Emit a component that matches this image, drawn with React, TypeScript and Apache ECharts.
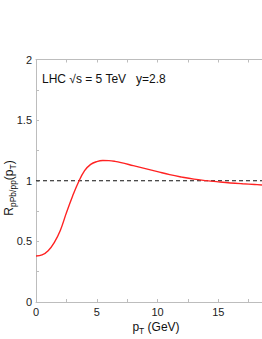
import React, { useEffect, useRef } from "react";
import * as echarts from "echarts";

const ptValues = [0, 0.5, 1.0, 1.5, 2.0, 2.5, 3.0, 3.5, 4.0, 4.5, 5.0, 5.5, 6.0, 6.5, 7.0, 8.0, 9.0, 10.0, 11.0, 12.0, 13.0, 14.0, 15.0, 16.0, 17.0, 18.0, 18.6];
const rValues = [0.38, 0.388, 0.423, 0.49, 0.59, 0.735, 0.87, 0.99, 1.083, 1.135, 1.158, 1.167, 1.166, 1.16, 1.15, 1.125, 1.1, 1.075, 1.05, 1.03, 1.013, 1.001, 0.991, 0.982, 0.975, 0.969, 0.965];
const refLine = [[0, 1], [18.6, 1]];
const yTicks = ["0", "0.5", "1", "1.5", "2"];

const FONT = "Liberation Sans, Arial, Helvetica, sans-serif";

export default function App() {
  const ref = useRef<HTMLDivElement>(null);
  useEffect(() => {
    if (!ref.current) return;
    const chart = echarts.init(ref.current, undefined, { renderer: "svg" });
    const frame = "#bdbdbd";
    const tickCfg = { show: true, inside: true, length: 3, lineStyle: { color: frame, width: 1 } };
    const minorCfg = { show: true, length: 3, lineStyle: { color: frame, width: 1 } };
    const rich = {
      m: { fontSize: 12, fontFamily: FONT, fill: "#111" },
      s: { fontSize: 8.5, fontFamily: FONT, fill: "#111", verticalAlign: "bottom", padding: [7, 0, 0, 0] },
    };
    chart.setOption({
      animation: false,
      grid: { left: 36, top: 59.5, right: 0, bottom: 37, containLabel: false },
      xAxis: [
        {
          type: "value", min: 0, max: 18.6, interval: 5,
          axisLine: { lineStyle: { color: frame, width: 1 } },
          axisTick: tickCfg, minorTick: { ...minorCfg, splitNumber: 2 },
          splitLine: { show: false },
          axisLabel: { color: "#222", fontSize: 11, fontFamily: FONT, margin: 4, showMaxLabel: false },
        },
        {
          type: "value", position: "top", min: 0, max: 18.6, interval: 5,
          axisLine: { show: true, lineStyle: { color: frame, width: 1 } },
          axisTick: tickCfg, minorTick: { ...minorCfg, splitNumber: 2 },
          splitLine: { show: false }, axisLabel: { show: false },
        },
      ],
      yAxis: [
        {
          type: "value", min: 0, max: 2, interval: 0.5,
          axisLine: { show: true, lineStyle: { color: frame, width: 1 } },
          axisTick: tickCfg, minorTick: { ...minorCfg, splitNumber: 2 },
          splitLine: { show: false },
          axisLabel: {
            color: "#222", fontSize: 11, fontFamily: FONT, margin: 4,
            formatter: (v: number) => yTicks[Math.round(v * 2)] ?? String(v),
          },
        },
      ],
      graphic: [
        {
          type: "text", left: 42, top: 73,
          style: { text: "LHC \u221As = 5 TeV   y=2.8", fontSize: 12, fontFamily: FONT, fill: "#111" },
        },
        {
          type: "text", x: 156, y: 327,
          style: { text: "{m|p}{s|T}{m| (GeV)}", align: "center", verticalAlign: "middle", rich },
        },
        {
          type: "text", x: 9, y: 188, rotation: Math.PI / 2,
          style: { text: "{m|R}{s|pPb/pp}{m|(p}{s|T}{m|)}", align: "center", verticalAlign: "middle", rich },
        },
      ],
      series: [
        {
          type: "line", data: refLine, symbol: "none", silent: true,
          lineStyle: { color: "#111", width: 1.2, type: [4, 3] },
        },
        {
          type: "line", data: ptValues.map((x, i) => [x, rValues[i]]), symbol: "none", smooth: 0.4,
          lineStyle: { color: "#f22", width: 1.4 },
        },
      ],
    });
    return () => chart.dispose();
  }, []);
  return <div ref={ref} style={{ width: 262, height: 339, position: "absolute", left: 0, top: 0 }} />;
}
